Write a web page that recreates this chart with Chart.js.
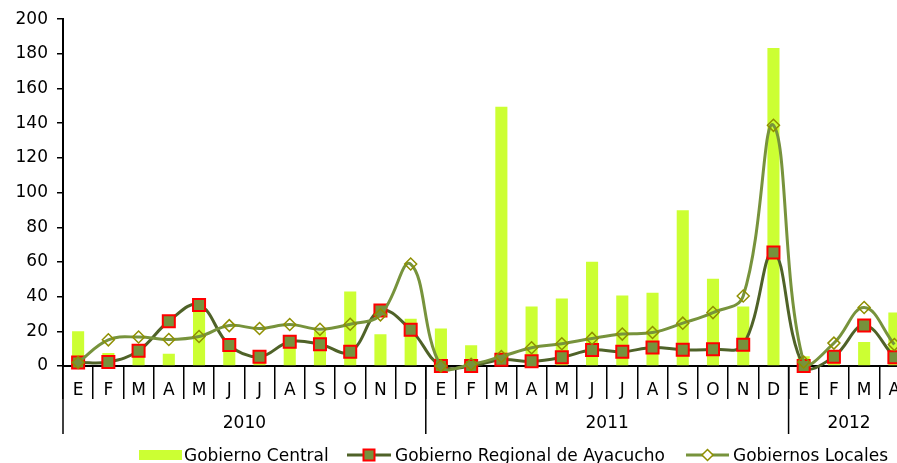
<!DOCTYPE html>
<html>
<head>
<meta charset="utf-8">
<script src="https://cdn.jsdelivr.net/npm/chart.js@4/dist/chart.umd.min.js"></script>
<style>
  html, body { margin: 0; padding: 0; background: #fff; }
  #wrap { position: relative; width: 897px; height: 463px; overflow: hidden; background: #fff; }
  #c { position: absolute; left: 0; top: 0; }
  .lg { position: absolute; font-family: "DejaVu Sans", sans-serif; font-size: 17px; line-height: 18px; color: #000; white-space: nowrap; }
  .sw { position: absolute; }
</style>
</head>
<body>
<div id="wrap">
  <canvas id="c" width="920" height="463"></canvas>
  <div class="sw" style="left:139px; top:450px; width:43px; height:10px; background:#CCFF33;"></div>
  <div class="lg" style="left:184px; top:446px;">Gobierno Central</div>
  <svg class="sw" style="left:347px; top:447px;" width="44" height="16">
    <line x1="0" y1="8" x2="44" y2="8" stroke="#4F6228" stroke-width="3"/>
    <rect x="16.5" y="2.5" width="11" height="11" fill="#76923C" stroke="#FF0000" stroke-width="2"/>
  </svg>
  <div class="lg" style="left:395px; top:446px;">Gobierno Regional de Ayacucho</div>
  <svg class="sw" style="left:686px; top:447px;" width="43" height="16">
    <line x1="0" y1="8" x2="43" y2="8" stroke="#77933C" stroke-width="3"/>
    <polygon points="21.5,2.5 27,8 21.5,13.5 16,8" fill="#fff" stroke="#8F8F00" stroke-width="1.5"/>
  </svg>
  <div class="lg" style="left:733px; top:446px;">Gobiernos Locales</div>
</div>
<script>
const months = ['E','F','M','A','M','J','J','A','S','O','N','D',
                'E','F','M','A','M','J','J','A','S','O','N','D',
                'E','F','M','A'];
const years = ['2010', '2011', '2012'];
const yearSpans = [12, 12, 4];
const gobiernoCentral = [20, 7.5, 7, 7, 37, 10, 3, 16, 20, 43, 18.3, 27.3,
                         21.6, 11.9, 149.5, 34.3, 38.9, 60.1, 40.6, 42.3, 89.8, 50.3, 34.3, 183.4,
                         5.6, 4, 13.8, 30.9];
const gobiernoRegional = [2, 2.3, 8.8, 25.8, 35.2, 12.1, 5.4, 14, 12.6, 8.2, 32, 20.9,
                          0, 0, 3.6, 2.7, 5, 9.2, 8.2, 10.7, 9.4, 9.6, 12.2, 65.5,
                          0, 5.4, 23.3, 5];
const gobiernosLocales = [2, 15.1, 16.7, 15.3, 17, 23.3, 21.6, 23.9, 21.2, 24.1, 29.5, 58.8,
                          0, 1, 5.5, 10.5, 12.8, 15.9, 18.4, 19.3, 24.7, 30.8, 40.4, 138.8,
                          2.3, 13.2, 33.7, 12.4];
const yMin = 0, yMax = 200, yStep = 20;

const FONT = 'DejaVu Sans';

const yearRow = {
  id: 'yearRow',
  afterDraw(chart) {
    const xs = chart.scales.x;
    const ctx = chart.ctx;
    const w = (xs.right - xs.left) / months.length;
    const base = chart.chartArea.bottom;
    ctx.save();
    ctx.strokeStyle = '#000';
    ctx.lineWidth = 1.5;
    ctx.fillStyle = '#000';
    ctx.font = '17px "' + FONT + '"';
    ctx.textAlign = 'center';
    ctx.textBaseline = 'middle';
    let start = 0;
    years.forEach((y, i) => {
      const left = xs.getPixelForValue(start) - w / 2;
      const right = xs.getPixelForValue(start + yearSpans[i] - 1) + w / 2;
      ctx.beginPath();
      ctx.moveTo(left, base);
      ctx.lineTo(left, base + 68);
      ctx.stroke();
      ctx.fillText(y, (left + right) / 2, base + 58);
      start += yearSpans[i];
    });
    ctx.restore();
  }
};

new Chart(document.getElementById('c'), {
  data: {
    labels: months.map((m, i) => i),
    datasets: [
      {
        type: 'bar',
        label: 'Gobierno Central',
        data: gobiernoCentral,
        backgroundColor: '#CCFF33',
        borderWidth: 0,
        barPercentage: 0.4,
        categoryPercentage: 1,
        order: 3
      },
      {
        type: 'line',
        label: 'Gobierno Regional de Ayacucho',
        data: gobiernoRegional,
        borderColor: '#4F6228',
        borderWidth: 3,
        tension: 0.4,
        pointStyle: 'rect',
        pointRadius: 8.5,
        pointBackgroundColor: '#76923C',
        pointBorderColor: '#FF0000',
        pointBorderWidth: 2,
        clip: false,
        order: 2
      },
      {
        type: 'line',
        label: 'Gobiernos Locales',
        data: gobiernosLocales,
        borderColor: '#77933C',
        borderWidth: 3,
        tension: 0.4,
        pointStyle: 'rectRot',
        pointRadius: 6,
        pointBackgroundColor: 'rgba(0,0,0,0)',
        pointBorderColor: '#8F8F00',
        pointBorderWidth: 1.5,
        clip: false,
        order: 1
      }
    ]
  },
  options: {
    responsive: false,
    animation: false,
    events: [],
    layout: { padding: { top: 17, right: 2, left: 0, bottom: 0 } },
    elements: { line: { capBezierPoints: false } },
    plugins: {
      legend: { display: false },
      tooltip: { enabled: false },
      title: { display: false }
    },
    scales: {
      x: {
        type: 'category',
        offset: true,
        grid: { offset: true, drawOnChartArea: false, drawTicks: true, tickLength: 33, color: '#000', lineWidth: 1.5 },
        border: { color: '#000', width: 2 },
        ticks: {
          autoSkip: false, maxRotation: 0, minRotation: 0,
          color: '#000', font: { family: FONT, size: 17 }, padding: -19,
          callback: (v, i) => months[i]
        },
        afterFit: (s) => { s.height = 97; }
      },
      y: {
        min: yMin, max: yMax,
        grid: { drawOnChartArea: false, tickLength: 6, color: '#000', lineWidth: 1.5 },
        border: { color: '#000', width: 2 },
        ticks: { stepSize: yStep, color: '#000', font: { family: FONT, size: 17 }, padding: 9 },
        afterFit: (s) => { s.width = 63; }
      }
    }
  },
  plugins: [yearRow]
});
</script>
</body>
</html>
